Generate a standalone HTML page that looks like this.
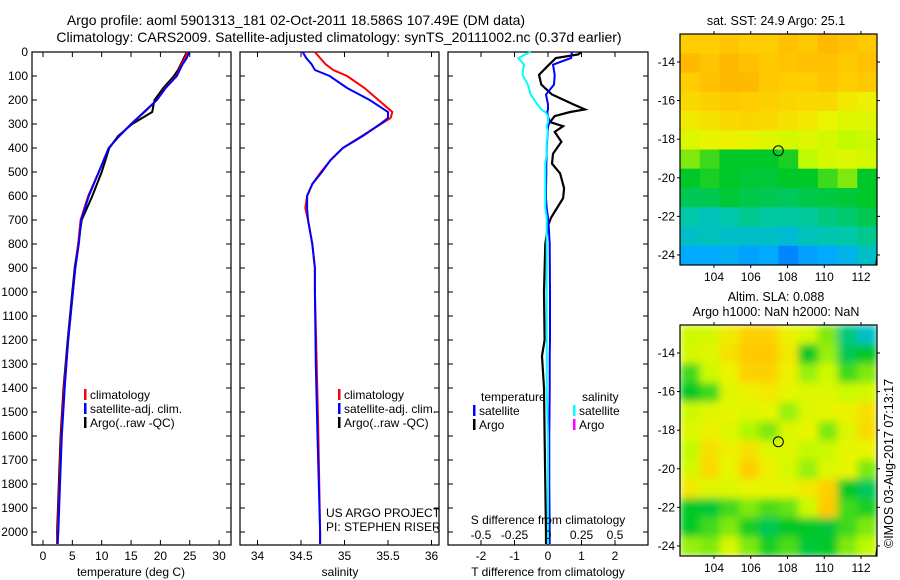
<!DOCTYPE html>
<html><head><meta charset="utf-8">
<style>
html,body{margin:0;padding:0;background:#fff;}
svg{display:block;font-family:"Liberation Sans",sans-serif;}
text{fill:#000;}
</style></head>
<body>
<svg id="chart" width="900" height="580" viewBox="0 0 900 580">
<defs>
<filter id="blur" x="-10%" y="-10%" width="120%" height="120%"><feGaussianBlur stdDeviation="4" edgeMode="duplicate"/></filter>
<clipPath id="clip1"><rect x="680" y="34" width="197" height="231"/></clipPath>
<clipPath id="clip2"><rect x="680" y="325" width="197" height="231"/></clipPath>
</defs>
<g font-size="14">
<text x="296" y="25" text-anchor="middle">Argo profile: aoml 5901313_181 02-Oct-2011 18.586S 107.49E (DM data)</text>
<text x="339" y="42" text-anchor="middle">Climatology: CARS2009. Satellite-adjusted climatology: synTS_20111002.nc (0.37d earlier)</text>
</g>
<g id="p1"></g>
<g id="p2"></g>
<g id="p3"></g>
<g id="m1"></g>
<g id="m2"></g>
<g font-size="12.5">
<text x="776" y="25" text-anchor="middle">sat. SST: 24.9 Argo: 25.1</text>
<text x="776" y="301" text-anchor="middle">Altim. SLA: 0.088</text>
<text x="776" y="316" text-anchor="middle">Argo h1000: NaN h2000: NaN</text>
<text transform="translate(893,548) rotate(-90)">©IMOS 03-Aug-2017 07:13:17</text>
</g>
</svg>
<script>
// ---- data ----
const depthT = [0,25,50,75,100,150,200,250,300,350,400,500,600,700,800,900,1000,1200,1400,1600,1800,2000,2050];
const tempClim = [24.6,24.2,23.6,23.2,22.7,20.8,19.4,17.3,15.0,13.0,11.2,9.5,7.7,6.4,6.0,5.5,5.1,4.3,3.6,3.1,2.8,2.5,2.4];
const tempSat  = [24.9,24.5,23.8,23.3,22.8,20.9,19.4,17.2,15.0,13.0,11.2,9.5,7.8,6.5,6.1,5.5,5.1,4.3,3.7,3.2,2.9,2.6,2.5];
const tempArgo = [24.5,24.0,23.5,23.0,22.3,20.5,19.0,18.6,15.2,12.8,11.3,10.0,8.4,6.6,6.0,5.4,5.0,4.2,3.5,3.0,2.7,2.4,2.4];
const depthS = [0,25,50,75,100,150,200,250,275,300,350,400,450,500,550,600,650,700,800,900,1000,1300,1600,2000,2050];
const salClim = [34.66,34.72,34.78,34.87,35.03,35.23,35.39,35.55,35.53,35.42,35.2,34.98,34.84,34.73,34.63,34.57,34.55,34.58,34.63,34.66,34.66,34.68,34.70,34.72,34.72];
const salSat  = [34.52,34.56,34.62,34.66,34.83,35.03,35.29,35.50,35.50,35.41,35.21,34.98,34.84,34.74,34.63,34.57,34.57,34.58,34.63,34.66,34.66,34.67,34.69,34.72,34.72];
const depthD = [0,10,25,53,95,136,177,218,239,250,267,292,309,333,374,424,465,506,568,609,650,691,724,800,1000,1200,1267,1400,1600,1800,2000,2050];
const dTArgo = [1.0,0.9,0.24,0.03,-0.27,-0.2,0.12,0.75,1.1,0.66,0.2,0.06,0.45,0.2,0.4,0.15,0.12,0.36,0.48,0.45,0.27,0.09,0.0,-0.08,-0.12,-0.1,-0.18,-0.12,-0.1,-0.08,-0.06,-0.06];
const dTSat  = [0.72,0.7,0.69,0.15,0.2,0.18,-0.06,0.0,0.0,-0.02,0.0,0.05,0.0,0.0,-0.03,-0.04,-0.05,-0.05,-0.06,-0.06,-0.04,0.0,0.02,0.05,0.06,0.06,0.05,0.05,0.04,0.04,0.05,0.05];
const dSSat  = [-0.13,-0.17,-0.22,-0.18,-0.19,-0.15,-0.13,-0.08,-0.05,-0.02,0.0,0.0,-0.01,0.0,-0.01,-0.01,-0.02,-0.02,-0.02,-0.02,-0.02,-0.01,-0.01,-0.01,-0.01,-0.01,-0.01,-0.01,0,0,0,0];
const depthTicks = [0,100,200,300,400,500,600,700,800,900,1000,1100,1200,1300,1400,1500,1600,1700,1800,1900,2000];
const tempTicks = [0,5,10,15,20,25,30];
const salTicks = ["34","34.5","35","35.5","36"];
const tdTicks = ["-2","-1","0","1","2"];
const sdTicks = ["-0.5","-0.25","0","0.25","0.5"];
const lonTicks = [104,106,108,110,112];
const latTicks = [-14,-16,-18,-20,-22,-24];
const argoLon = 107.5, argoLat = -18.6;
const sstGrid = [
[0.85,0.85,0.87,0.85,0.85,0.88,0.86,0.9,0.88,0.86],
[0.9,0.87,0.9,0.88,0.86,0.87,0.88,0.88,0.86,0.88],
[0.85,0.88,0.9,0.9,0.86,0.85,0.85,0.87,0.85,0.86],
[0.82,0.84,0.86,0.85,0.84,0.83,0.82,0.82,0.78,0.76],
[0.78,0.8,0.82,0.83,0.82,0.8,0.78,0.75,0.72,0.72],
[0.72,0.74,0.76,0.74,0.72,0.7,0.72,0.7,0.66,0.68],
[0.6,0.55,0.5,0.5,0.5,0.52,0.65,0.7,0.72,0.7],
[0.5,0.52,0.5,0.48,0.48,0.5,0.5,0.55,0.6,0.5],
[0.45,0.45,0.48,0.46,0.45,0.44,0.46,0.47,0.48,0.5],
[0.35,0.32,0.35,0.38,0.36,0.36,0.37,0.4,0.42,0.45],
[0.3,0.32,0.3,0.3,0.3,0.28,0.32,0.34,0.35,0.38],
[0.2,0.2,0.22,0.18,0.2,0.12,0.18,0.2,0.24,0.3]];
const slaGrid = [
[0.68,0.7,0.78,0.84,0.84,0.76,0.7,0.6,0.4,0.3],
[0.7,0.72,0.8,0.86,0.86,0.78,0.5,0.62,0.45,0.5],
[0.55,0.68,0.75,0.84,0.84,0.76,0.62,0.68,0.55,0.6],
[0.5,0.55,0.72,0.76,0.78,0.74,0.72,0.72,0.68,0.7],
[0.68,0.72,0.74,0.72,0.74,0.62,0.72,0.74,0.76,0.8],
[0.72,0.76,0.72,0.64,0.6,0.72,0.74,0.6,0.72,0.82],
[0.66,0.8,0.76,0.8,0.72,0.72,0.66,0.68,0.74,0.74],
[0.7,0.82,0.74,0.85,0.76,0.7,0.62,0.72,0.74,0.6],
[0.78,0.72,0.72,0.74,0.74,0.74,0.78,0.84,0.5,0.44],
[0.5,0.48,0.55,0.6,0.56,0.58,0.68,0.86,0.55,0.52],
[0.5,0.55,0.6,0.52,0.45,0.5,0.5,0.48,0.55,0.6],
[0.62,0.6,0.7,0.6,0.52,0.56,0.48,0.5,0.6,0.65]];

// ---- helpers ----
const NS="http://www.w3.org/2000/svg";
function mk(tag,attrs,parent){const e=document.createElementNS(NS,tag);for(const k in attrs)e.setAttribute(k,attrs[k]);parent.appendChild(e);return e;}
function txt(parent,x,y,s,anchor,size){const t=mk('text',{x:x,y:y,'text-anchor':anchor||'start','font-size':size||12},parent);t.textContent=s;return t;}
const top0=52, bot=545;
const yD = d => top0 + d*(532-top0)/2000;

function frame(g,x0,x1,ticksX){
  const r=mk('rect',{x:x0,y:top0,width:x1-x0,height:bot-top0,fill:'none',stroke:'#000','stroke-width':1.2},g);
  
  
  depthTicks.forEach(d=>{
    mk('line',{x1:x0,x2:x0+5,y1:yD(d),y2:yD(d),stroke:'#000'},g);
    mk('line',{x1:x1-5,x2:x1,y1:yD(d),y2:yD(d),stroke:'#000'},g);
  });
  ticksX.forEach(x=>{
    mk('line',{x1:x,x2:x,y1:bot,y2:bot-5,stroke:'#000'},g);
    mk('line',{x1:x,x2:x,y1:top0,y2:top0+5,stroke:'#000'},g);
  });
}
function line(g,xs,ds,xf,color,w,name){
  const p=mk('polyline',{points:xs.map((v,i)=>xf(v).toFixed(1)+','+yD(ds[i]).toFixed(1)).join(' '),fill:'none',stroke:color,'stroke-width':w},g);
  
  
}
function legend(g,x,y,items){
  items.forEach((it,i)=>{
    const b=mk('rect',{x:x,y:y+i*14-10,width:2.5,height:11,fill:it[1]},g);
    
    
    const t=txt(g,x+6,y+i*14,it[0]);
    
    
  });
}

// ---- panel 1: temperature ----
const p1=document.getElementById('p1');
const xT=v=>43+v*5.87;
frame(p1,32,231,tempTicks.map(xT));
depthTicks.forEach(d=>{const t=txt(p1,28,yD(d)+4,String(d),'end');});
tempTicks.forEach(v=>{const t=txt(p1,xT(v),560,String(v),'middle');});
{const t=txt(p1,131,576,'temperature (deg C)','middle');}
line(p1,tempArgo,depthT,xT,'#000',2,'temp-argo-line');
line(p1,tempClim,depthT,xT,'#f00',2,'temp-climatology-line');
line(p1,tempSat,depthT,xT,'#00f',2,'temp-satellite-line');
legend(p1,84,399,[['climatology','#f00'],['satellite-adj. clim.','#00f'],['Argo(..raw -QC)','#000']]);

// ---- panel 2: salinity ----
const p2=document.getElementById('p2');
const xS=v=>257.5+(v-34)*87;
frame(p2,240,439,salTicks.map(s=>xS(+s)));
salTicks.forEach(s=>{const t=txt(p2,xS(+s),560,s,'middle');});
{const t=txt(p2,340,576,'salinity','middle');}
line(p2,salClim,depthS,xS,'#f00',2,'sal-climatology-line');
line(p2,salSat,depthS,xS,'#00f',2,'sal-satellite-line');
legend(p2,338,399,[['climatology','#f00'],['satellite-adj. clim.','#00f'],['Argo(..raw -QC)','#000']]);
{const t=txt(p2,326,517,'US ARGO PROJECT');
 const u=txt(p2,326,531,'PI: STEPHEN RISER');}

// ---- panel 3: differences ----
const p3=document.getElementById('p3');
const xdT=v=>548+v*33.5, xdS=v=>548+v*134;
frame(p3,448,648,tdTicks.map(s=>xdT(+s)));
tdTicks.forEach(s=>{const t=txt(p3,xdT(+s),560,s,'middle');});
{const t=txt(p3,548,576,'T difference from climatology','middle');}
line(p3,dTArgo,depthD,xdT,'#000',2.2,'tdiff-argo-line');
line(p3,dTSat,depthD,xdT,'#00f',2,'tdiff-satellite-line');
line(p3,dSSat,depthD,xdS,'#0ff',2,'sdiff-satellite-line');
{const t=txt(p3,548,524,'S difference from climatology','middle');}
sdTicks.forEach(s=>{const t=txt(p3,xdS(+s),539,s,'middle');});
{const t=txt(p3,481,401,'temperature');
 const u=txt(p3,582,401,'salinity');}
legend(p3,473,415,[['satellite','#00f'],['Argo','#000']]);
legend(p3,573,415,[['satellite','#0ff'],['Argo','#f0f']]);

// ---- maps ----
const lonL=102.15, lonR=112.87, latT=-12.55, latB=-24.52;
function cmap(v){
  const st=[[0,[0,80,255]],[0.2,[0,170,255]],[0.35,[0,200,170]],[0.5,[0,200,40]],[0.65,[190,250,0]],[0.75,[235,245,0]],[0.85,[255,205,0]],[0.95,[255,165,0]]];
  if(v<=st[0][0])return 'rgb('+st[0][1]+')';
  for(let i=1;i<st.length;i++){if(v<=st[i][0]){const a=st[i-1],b=st[i],f=(v-a[0])/(b[0]-a[0]);return 'rgb('+a[1].map((c,j)=>Math.round(c+(b[1][j]-c)*f)).join(',')+')';}}
  return 'rgb('+st[st.length-1][1]+')';
}
function drawMap(gid,grid,y0,clipId,smooth){
  const g=document.getElementById(gid);
  const x0=680,x1=877,y1=y0+231;
  const xL=lon=>x0+(lon-lonL)*(x1-x0)/(lonR-lonL);
  const yL=lat=>y0+(latT-lat)*(y1-y0)/(latT-latB);
  const cg=mk('g',{'clip-path':'url(#'+clipId+')'},g);
  const ig=mk('g',smooth?{filter:'url(#blur)'}:{},cg);
  const nr=grid.length,nc=grid[0].length;
  const dlon=(lonR-lonL)/nc,dlat=(latT-latB)/nr;
  grid.forEach((row,r)=>row.forEach((v,c)=>{
    const xa=xL(lonL+c*dlon),xb=xL(lonL+(c+1)*dlon),ya=yL(latT-r*dlat),yb=yL(latT-(r+1)*dlat);
    const cell=mk('rect',{x:xa.toFixed(1),y:ya.toFixed(1),width:(xb-xa+0.6).toFixed(1),height:(yb-ya+0.6).toFixed(1),fill:cmap(v)},ig);
    
    
  }));
  mk('line',{x1:xL(112.8),y1:yL(-24.52),x2:xL(112.87),y2:yL(-24.0),stroke:'#000'},cg);
  const fr=mk('rect',{x:x0,y:y0,width:x1-x0,height:y1-y0,fill:'none',stroke:'#000','stroke-width':1.2},g);
  
  
  lonTicks.forEach(l=>{
    mk('line',{x1:xL(l),x2:xL(l),y1:y0-3,y2:y0,stroke:'#000'},g);
    mk('line',{x1:xL(l),x2:xL(l),y1:y1,y2:y1+3,stroke:'#000'},g);
    const t=txt(g,xL(l),y1+16,String(l),'middle');
    
    
  });
  latTicks.forEach(l=>{
    mk('line',{x1:x0-3,x2:x0,y1:yL(l),y2:yL(l),stroke:'#000'},g);
    mk('line',{x1:x1,x2:x1+3,y1:yL(l),y2:yL(l),stroke:'#000'},g);
    const t=txt(g,x0-5,yL(l)+4,String(l),'end');
    
    
  });
  const c=mk('circle',{cx:xL(argoLon),cy:yL(argoLat),r:5,fill:'none',stroke:'#000','stroke-width':1},g);
  
  
}
drawMap('m1',sstGrid,34,'clip1',false);
drawMap('m2',slaGrid,325,'clip2',true);
</script>
</body></html>
